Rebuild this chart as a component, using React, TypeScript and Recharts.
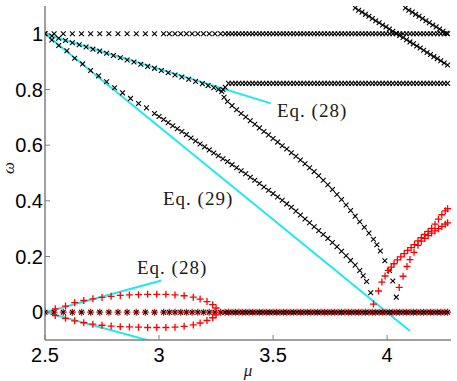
import { ScatterChart, Scatter, XAxis, YAxis, ReferenceLine } from 'recharts';

// parameter grid used by the flat branches (sparse on the left, dense on the right)
const MU_SPARSE = [2.5, 2.54, 2.58, 2.62, 2.66, 2.7, 2.74, 2.78, 2.82, 2.86, 2.9, 2.94, 2.98, 3.02, 3.045, 3.07, 3.095, 3.12, 3.145, 3.17, 3.195, 3.22, 3.245, 3.27, 3.29];
const MU_DENSE = [
  3.305, 3.32, 3.335, 3.35, 3.365, 3.38, 3.395, 3.41, 3.425, 3.44, 3.455, 3.47, 3.485, 3.5, 3.515, 3.53, 3.545,
  3.56, 3.575, 3.59, 3.605, 3.62, 3.635, 3.65, 3.665, 3.68, 3.695, 3.71, 3.725, 3.74, 3.755, 3.77, 3.785, 3.8,
  3.815, 3.83, 3.845, 3.86, 3.875, 3.89, 3.905, 3.92, 3.935, 3.95, 3.965, 3.98, 3.995, 4.01, 4.025, 4.04, 4.055,
  4.07, 4.085, 4.1, 4.115, 4.13, 4.145, 4.16, 4.175, 4.19, 4.205, 4.22, 4.235, 4.25, 4.265,
];
const MU_GRID = [...MU_SPARSE, ...MU_DENSE];

// upper branch leaving omega = 1 (follows Eq. 28)
const UPPER_MU = [2.53, 2.56, 2.59, 2.62, 2.65, 2.68, 2.71, 2.74, 2.77, 2.8, 2.83, 2.86, 2.89, 2.92, 2.95, 2.98, 3.01, 3.04, 3.07, 3.1, 3.13, 3.16, 3.19, 3.215, 3.24, 3.26, 3.275];
const UPPER_OMEGA = [0.992, 0.984, 0.976, 0.968, 0.961, 0.953, 0.945, 0.938, 0.93, 0.922, 0.914, 0.906, 0.899, 0.891, 0.883, 0.876, 0.868, 0.86, 0.852, 0.845, 0.837, 0.829, 0.821, 0.814, 0.806, 0.8, 0.793];

// branch that settles on omega ~ 0.82
const PLATEAU_HEAD_MU = [3.28, 3.29];
const PLATEAU_HEAD_OMEGA = [0.8, 0.808];
const PLATEAU_OMEGA = 0.822;

// branch falling from the junction towards 4.04
const FALL_MU = [3.285, 3.3, 3.32, 3.34, 3.36, 3.38, 3.4, 3.42, 3.44, 3.46, 3.48, 3.5, 3.52, 3.54, 3.56, 3.58, 3.6, 3.62, 3.64, 3.66, 3.68, 3.7, 3.72, 3.74, 3.76, 3.78, 3.8, 3.82, 3.84, 3.86, 3.88, 3.9, 3.92, 3.94, 3.955, 3.97, 3.99, 4.01, 4.025, 4.04];
const FALL_OMEGA = [0.772, 0.757, 0.742, 0.727, 0.714, 0.701, 0.688, 0.675, 0.662, 0.649, 0.637, 0.624, 0.611, 0.598, 0.586, 0.573, 0.56, 0.547, 0.533, 0.519, 0.505, 0.49, 0.474, 0.458, 0.441, 0.423, 0.405, 0.385, 0.365, 0.345, 0.325, 0.305, 0.284, 0.262, 0.242, 0.22, 0.185, 0.15, 0.112, 0.054];

// lower branch leaving omega = 1 (near Eq. 29)
const LOWER_MU = [2.5, 2.53, 2.56, 2.596, 2.63, 2.665, 2.7, 2.735, 2.77, 2.805, 2.84, 2.875, 2.91, 2.945, 2.98, 3.0, 3.02, 3.04, 3.06, 3.08, 3.1, 3.12, 3.14, 3.16, 3.18, 3.2, 3.22, 3.24, 3.26, 3.28, 3.3, 3.32, 3.34, 3.36, 3.38, 3.4, 3.42, 3.44, 3.46, 3.48, 3.5, 3.52, 3.54, 3.56, 3.58, 3.6, 3.62, 3.64, 3.66, 3.68, 3.7, 3.72, 3.74, 3.76, 3.78, 3.8, 3.82, 3.84, 3.86, 3.88, 3.895, 3.91, 3.928];
const LOWER_OMEGA = [1.0, 0.978, 0.958, 0.939, 0.912, 0.892, 0.868, 0.849, 0.828, 0.806, 0.788, 0.768, 0.75, 0.734, 0.714, 0.703, 0.692, 0.681, 0.67, 0.659, 0.649, 0.638, 0.626, 0.615, 0.604, 0.594, 0.583, 0.572, 0.562, 0.551, 0.541, 0.53, 0.519, 0.508, 0.497, 0.485, 0.474, 0.462, 0.45, 0.438, 0.426, 0.414, 0.402, 0.389, 0.377, 0.363, 0.349, 0.335, 0.321, 0.307, 0.293, 0.279, 0.265, 0.25, 0.235, 0.219, 0.203, 0.186, 0.169, 0.15, 0.131, 0.11, 0.07];

// two lines entering from the top right
const TOP_A_MU = [3.86, 3.875, 3.89, 3.905, 3.92, 3.935, 3.95, 3.965, 3.98, 3.995, 4.01, 4.025, 4.04, 4.055, 4.07, 4.085, 4.1, 4.115, 4.13, 4.145, 4.16, 4.175, 4.19, 4.205, 4.22, 4.235, 4.25, 4.265];
const TOP_A_OMEGA = [1.093, 1.085, 1.078, 1.07, 1.063, 1.055, 1.047, 1.04, 1.032, 1.025, 1.017, 1.009, 1.002, 0.994, 0.987, 0.979, 0.971, 0.964, 0.956, 0.949, 0.941, 0.933, 0.926, 0.918, 0.911, 0.903, 0.895, 0.888];
const TOP_B_MU = [4.08, 4.095, 4.11, 4.125, 4.14, 4.155, 4.17, 4.185, 4.2, 4.215, 4.23, 4.245, 4.26];
const TOP_B_OMEGA = [1.093, 1.085, 1.078, 1.07, 1.063, 1.055, 1.047, 1.04, 1.032, 1.025, 1.017, 1.009, 1.002];

// red: bubble around omega = 0
const BUBBLE_UP_MU = [2.545, 2.59, 2.63, 2.67, 2.71, 2.75, 2.79, 2.83, 2.87, 2.91, 2.95, 2.99, 3.03, 3.07, 3.11, 3.15, 3.18, 3.21, 3.235, 3.25];
const BUBBLE_UP_OMEGA = [0.012, 0.022, 0.034, 0.042, 0.048, 0.053, 0.057, 0.06, 0.062, 0.063, 0.064, 0.064, 0.064, 0.062, 0.059, 0.054, 0.047, 0.038, 0.027, 0.015];
const BUBBLE_DOWN_MU = [2.545, 2.59, 2.63, 2.67, 2.71, 2.75, 2.79, 2.83, 2.87, 2.91, 2.95, 2.99, 3.03, 3.07, 3.11, 3.15, 3.18, 3.21, 3.235, 3.25];
const BUBBLE_DOWN_OMEGA = [-0.012, -0.022, -0.031, -0.038, -0.043, -0.047, -0.05, -0.052, -0.053, -0.054, -0.055, -0.055, -0.055, -0.054, -0.051, -0.046, -0.039, -0.03, -0.02, -0.01];

// red: rising branches on the right
const RISE_A_MU = [3.94, 3.962, 3.977, 3.991, 4.005, 4.018, 4.03, 4.045, 4.06, 4.075, 4.09, 4.105, 4.12, 4.135, 4.15, 4.165, 4.18, 4.195, 4.21, 4.225, 4.24, 4.255, 4.265];
const RISE_A_OMEGA = [0.029, 0.076, 0.108, 0.13, 0.15, 0.162, 0.174, 0.188, 0.199, 0.21, 0.222, 0.232, 0.243, 0.256, 0.268, 0.279, 0.29, 0.301, 0.316, 0.334, 0.35, 0.364, 0.372];
const RISE_B_MU = [4.053, 4.07, 4.087, 4.1, 4.118, 4.135, 4.15, 4.165, 4.18, 4.195, 4.21, 4.225, 4.24, 4.255, 4.265];
const RISE_B_OMEGA = [0.089, 0.129, 0.164, 0.189, 0.215, 0.24, 0.255, 0.265, 0.275, 0.284, 0.292, 0.3, 0.308, 0.316, 0.321];

const X_TICKS = [2.5, 3, 3.5, 4];
const Y_TICKS = [0, 0.2, 0.4, 0.6, 0.8, 1];

const pts = (mu: number[], omega: number[]) => mu.map((m, i) => ({ mu: m, omega: omega[i] }));
const flat = (mu: number[], w: number) => mu.map((m) => ({ mu: m, omega: w }));

const XMark = (p: any) => {
  const { cx, cy } = p;
  if (cx == null || cy == null) return <g />;
  const s = 2.4;
  return (
    <path
      d={`M${cx - s},${cy - s}L${cx + s},${cy + s}M${cx - s},${cy + s}L${cx + s},${cy - s}`}
      stroke="#000"
      strokeWidth={1.1}
      fill="none"
    />
  );
};

const PlusMark = (p: any) => {
  const { cx, cy } = p;
  if (cx == null || cy == null) return <g />;
  const s = 3.5;
  return (
    <path
      d={`M${cx - s},${cy}L${cx + s},${cy}M${cx},${cy - s}L${cx},${cy + s}`}
      stroke="#ff0000"
      strokeWidth={1.3}
      fill="none"
    />
  );
};

const CYAN = '#1ee8f0';
const AXIS = '#808080';
const tickFont = { fill: '#000', fontSize: 20, fontFamily: 'Liberation Sans, Arial, sans-serif' };
const eqFont = { fontFamily: 'Liberation Serif, serif', fontSize: 19, fill: '#1a1a1a', letterSpacing: 1 };

export default function App() {
  const black = [
    flat(MU_GRID, 1),
    [...pts(PLATEAU_HEAD_MU, PLATEAU_HEAD_OMEGA), ...flat(MU_DENSE, PLATEAU_OMEGA)],
    pts(UPPER_MU, UPPER_OMEGA),
    pts(FALL_MU, FALL_OMEGA),
    pts(LOWER_MU, LOWER_OMEGA),
    pts(TOP_A_MU, TOP_A_OMEGA),
    pts(TOP_B_MU, TOP_B_OMEGA),
  ];
  const red = [
    pts(BUBBLE_UP_MU, BUBBLE_UP_OMEGA),
    pts(BUBBLE_DOWN_MU, BUBBLE_DOWN_OMEGA),
    pts(RISE_A_MU, RISE_A_OMEGA),
    pts(RISE_B_MU, RISE_B_OMEGA),
  ];

  return (
    <div style={{ position: 'absolute', left: 0, top: 0, width: 457, height: 381, background: '#fff' }}>
      <ScatterChart width={457} height={381} margin={{ top: 6, right: 6, bottom: 0, left: 0 }}>
        <XAxis
          type="number"
          dataKey="mu"
          domain={[2.5, 4.28]}
          ticks={X_TICKS}
          interval={0}
          allowDataOverflow
          height={41}
          tickSize={-5}
          tickMargin={13}
          axisLine={{ stroke: AXIS, strokeWidth: 1.5 }}
          tickLine={{ stroke: AXIS }}
          tick={tickFont}
        />
        <XAxis
          xAxisId="top"
          orientation="top"
          type="number"
          domain={[2.5, 4.28]}
          ticks={X_TICKS}
          interval={0}
          allowDataOverflow
          height={0}
          tickSize={-5}
          axisLine={{ stroke: AXIS, strokeWidth: 1.5 }}
          tickLine={{ stroke: AXIS }}
          tick={false}
        />
        <YAxis
          type="number"
          dataKey="omega"
          domain={[-0.1, 1.1]}
          ticks={Y_TICKS}
          interval={0}
          allowDataOverflow
          width={45}
          tickSize={-5}
          tickMargin={7}
          axisLine={{ stroke: AXIS, strokeWidth: 1.5 }}
          tickLine={{ stroke: AXIS }}
          tick={tickFont}
        />
        <YAxis
          yAxisId="right"
          orientation="right"
          type="number"
          domain={[-0.1, 1.1]}
          ticks={Y_TICKS}
          interval={0}
          allowDataOverflow
          width={0}
          tickSize={-5}
          axisLine={{ stroke: AXIS, strokeWidth: 1.5 }}
          tickLine={{ stroke: AXIS }}
          tick={false}
        />
        <Scatter data={flat(MU_GRID, 0)} dataKey="omega" shape={PlusMark} isAnimationActive={false} />
        <Scatter data={flat(MU_GRID, 0)} dataKey="omega" shape={XMark} isAnimationActive={false} />
        {black.map((d, i) => (
          <Scatter key={`b${i}`} data={d} dataKey="omega" shape={XMark} isAnimationActive={false} />
        ))}
        {red.map((d, i) => (
          <Scatter key={`r${i}`} data={d} dataKey="omega" shape={PlusMark} isAnimationActive={false} />
        ))}
        <ReferenceLine segment={[{ x: 2.5, y: 1 }, { x: 3.49, y: 0.75 }]} stroke={CYAN} strokeWidth={2} ifOverflow="hidden" />
        <ReferenceLine segment={[{ x: 2.5, y: 1 }, { x: 4.1, y: -0.068 }]} stroke={CYAN} strokeWidth={2} ifOverflow="hidden" />
        <ReferenceLine segment={[{ x: 2.5, y: 0 }, { x: 3.01, y: 0.114 }]} stroke={CYAN} strokeWidth={2} ifOverflow="hidden" />
        <ReferenceLine segment={[{ x: 2.5, y: 0 }, { x: 3.01, y: -0.114 }]} stroke={CYAN} strokeWidth={2} ifOverflow="hidden" />
      </ScatterChart>
      <svg width={457} height={381} style={{ position: 'absolute', left: 0, top: 0, pointerEvents: 'none' }}>
        <text x={277} y={117} {...eqFont}>Eq. (28)</text>
        <text x={163} y={205} {...eqFont}>Eq. (29)</text>
        <text x={137} y={274} {...eqFont}>Eq. (28)</text>
        <text x={248} y={376} textAnchor="middle" fontFamily="Liberation Serif, serif" fontStyle="italic" fontSize={17} fill="#1a1a1a">μ</text>
        <g transform="translate(10,168) rotate(-90)">
          <text x={0} y={4} textAnchor="middle" fontFamily="Liberation Serif, serif" fontStyle="italic" fontSize={17} fill="#1a1a1a">ω</text>
        </g>
      </svg>
    </div>
  );
}
